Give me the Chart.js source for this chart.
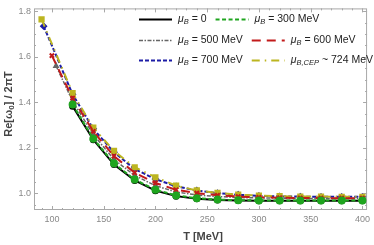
<!DOCTYPE html>
<html>
<head>
<meta charset="utf-8">
<script src="https://cdn.jsdelivr.net/npm/chart.js@4.4.0/dist/chart.umd.min.js"></script>
<style>
html, body { margin: 0; padding: 0; background: #fff; }
#wrap { width: 374px; height: 245px; position: relative; }
</style>
</head>
<body>
<div id="wrap"><canvas id="omegaChart"></canvas></div>
<script>
// Re[w0] / 2piT against T, one curve per baryon chemical potential
const temps = [120, 140, 160, 180, 200, 220, 240, 260, 280, 300, 320, 340, 360, 380, 400];
const tMu500 = [104].concat(temps);
const tMu600 = [100].concat(temps);
const tMu700 = [92].concat(temps);
const tCep = [90].concat(temps);

const mu0 = [1.383, 1.235, 1.126, 1.056, 1.011, 0.987, 0.976, 0.970, 0.968, 0.967, 0.967, 0.967, 0.967, 0.967, 0.967];
const mu300 = [1.390, 1.240, 1.131, 1.060, 1.015, 0.990, 0.978, 0.972, 0.969, 0.968, 0.968, 0.968, 0.968, 0.968, 0.968];
const mu500 = [1.560, 1.405, 1.258, 1.148, 1.078, 1.033, 1.005, 0.992, 0.985, 0.981, 0.979, 0.978, 0.977, 0.977, 0.977, 0.977];
const mu600 = [1.605, 1.418, 1.272, 1.163, 1.090, 1.045, 1.015, 1.000, 0.991, 0.985, 0.982, 0.980, 0.979, 0.978, 0.978, 0.978];
const mu700 = [1.735, 1.435, 1.283, 1.180, 1.106, 1.062, 1.030, 1.012, 1.000, 0.993, 0.988, 0.986, 0.985, 0.984, 0.984, 0.984];
const muCep = [1.765, 1.440, 1.288, 1.186, 1.114, 1.070, 1.033, 1.012, 1.001, 0.994, 0.989, 0.987, 0.985, 0.985, 0.984, 0.984];

const xTicks = [100, 150, 200, 250, 300, 350, 400];
const yTicks = [1.0, 1.2, 1.4, 1.6, 1.8];

function pts(ts, vs) {
    let out = [];
    for (let i = 0; i < ts.length; i++) {
        out.push({ x: ts[i], y: vs[i] });
    }
    return out;
}

// legend text pieces: [text, subscript]
const legendText = [
    ['B', ' = 0'],
    ['B', ' = 300 MeV'],
    ['B', ' = 500 MeV'],
    ['B', ' = 600 MeV'],
    ['B', ' = 700 MeV'],
    ['B,CEP', ' ~ 724 MeV']
];

const datasets = [
    { data: pts(temps, mu0), borderColor: '#000', backgroundColor: '#000', borderWidth: 2, borderDash: [],
      pointStyle: 'circle', pointRadius: 2.5, order: 6 },
    { data: pts(temps, mu300), borderColor: '#1fa51f', backgroundColor: '#1fa51f', borderWidth: 2, borderDash: [4, 2.5],
      pointStyle: 'circle', pointRadius: 3, order: 1 },
    { data: pts(tMu500, mu500), borderColor: '#666', backgroundColor: '#666', borderWidth: 1.5, borderDash: [4, 1.5, 1.5, 1.5],
      pointStyle: 'triangle', pointRadius: 2.5, order: 5 },
    { data: pts(tMu600, mu600), borderColor: '#c21a1a', backgroundColor: '#c21a1a', borderWidth: 2, borderDash: [9, 6],
      pointStyle: 'crossRot', pointRadius: 3, pointBorderWidth: 2, order: 2 },
    { data: pts(tMu700, mu700), borderColor: '#1c1ca6', backgroundColor: '#1c1ca6', borderWidth: 2, borderDash: [4, 2],
      pointStyle: 'rectRot', pointRadius: 2.5, order: 4 },
    { data: pts(tCep, muCep), borderColor: '#bcb520', backgroundColor: '#bcb520', borderWidth: 2, borderDash: [8, 5, 1.5, 5],
      pointStyle: 'rect', pointRadius: 3, order: 3 }
];

const frameTicks = {
    id: 'frameTicks',
    beforeDatasetsDraw(chart) {
        const ctx = chart.ctx;
        const a = chart.chartArea;
        const xs = chart.scales.x, ys = chart.scales.y;
        ctx.save();
        ctx.strokeStyle = '#a8a8a8';
        ctx.lineWidth = 1;
        ctx.strokeRect(a.left + 0.5, a.top + 0.5, a.right - a.left - 1, a.bottom - a.top - 1);
        ctx.beginPath();
        for (let t = 90; t <= 400; t += 10) {
            const px = Math.round(xs.getPixelForValue(t)) + 0.5;
            const len = (t % 50 === 0) ? 4 : 2;
            ctx.moveTo(px, a.bottom); ctx.lineTo(px, a.bottom - len);
            ctx.moveTo(px, a.top); ctx.lineTo(px, a.top + len);
        }
        for (let k = 19; k <= 36; k++) {
            const v = k * 0.05;
            const py = Math.round(ys.getPixelForValue(v)) + 0.5;
            const len = (k % 4 === 0) ? 4 : 2;
            ctx.moveTo(a.left, py); ctx.lineTo(a.left + len, py);
            ctx.moveTo(a.right, py); ctx.lineTo(a.right - len, py);
        }
        ctx.stroke();
        ctx.restore();
    },
    afterDraw(chart) {
        const ctx = chart.ctx;
        ctx.save();
        // axis titles
        ctx.fillStyle = '#444';
        ctx.font = 'bold 11px "Liberation Sans", Arial, sans-serif';
        ctx.textAlign = 'center';
        ctx.textBaseline = 'middle';
        ctx.fillText('T [MeV]', 203, 237);

        ctx.translate(9, 104);
        ctx.rotate(-Math.PI / 2);
        const part1 = 'Re[\u03c9', sub = '0', part2 = '] / 2\u03c0T';
        const fMain = 'bold 11px "Liberation Sans", Arial, sans-serif';
        const fSub = 'bold 8px "Liberation Sans", Arial, sans-serif';
        ctx.font = fMain;
        const w1 = ctx.measureText(part1).width, w3 = ctx.measureText(part2).width;
        ctx.font = fSub;
        const w2 = ctx.measureText(sub).width;
        let x = -(w1 + w2 + w3) / 2;
        ctx.textAlign = 'left';
        ctx.font = fMain; ctx.fillText(part1, x, 0); x += w1;
        ctx.font = fSub; ctx.fillText(sub, x, 3); x += w2;
        ctx.font = fMain; ctx.fillText(part2, x, 0);
        ctx.restore();

        drawLegend(chart);
    }
};

function drawLegend(chart) {
    const ctx = chart.ctx;
    const rowsY = [19, 40, 60];
    const fMu = 'italic 10.5px "Liberation Sans", Arial, sans-serif';
    const fSub = 'italic 7.5px "Liberation Sans", Arial, sans-serif';
    const fTxt = '10.5px "Liberation Sans", Arial, sans-serif';
    ctx.save();
    ctx.textBaseline = 'middle';
    ctx.textAlign = 'left';
    for (let r = 0; r < 3; r++) {
        let x = 139;
        const y = rowsY[r];
        for (let c = 0; c < 2; c++) {
            const i = r * 2 + c;
            const ds = chart.data.datasets[i];
            ctx.strokeStyle = ds.borderColor;
            ctx.lineWidth = ds.borderWidth;
            ctx.setLineDash(ds.borderDash);
            ctx.beginPath();
            ctx.moveTo(x, y + 0.5);
            ctx.lineTo(x + 33, y + 0.5);
            ctx.stroke();
            ctx.setLineDash([]);
            x += 39;
            ctx.fillStyle = '#222';
            ctx.font = fMu; ctx.fillText('\u03bc', x, y); x += ctx.measureText('\u03bc').width;
            ctx.font = fSub; ctx.fillText(legendText[i][0], x, y + 3); x += ctx.measureText(legendText[i][0]).width;
            ctx.font = fTxt; ctx.fillText(legendText[i][1], x, y); x += ctx.measureText(legendText[i][1]).width;
            x += 9;
        }
    }
    ctx.restore();
}

const ctxOmega = document.getElementById('omegaChart').getContext('2d');
const omegaChart = new Chart(ctxOmega, {
    type: 'line',
    data: { datasets: datasets },
    options: {
        responsive: true,
        maintainAspectRatio: false,
        animation: false,
        devicePixelRatio: 1,
        layout: { padding: { top: 3, right: 4, left: 0, bottom: 0 } },
        plugins: { legend: { display: false }, tooltip: { enabled: false } },
        elements: { line: { tension: 0 } },
        scales: {
            x: {
                type: 'linear', min: 82.7, max: 404.5,
                afterFit(scale) { scale.height = 35; },
                afterBuildTicks(scale) { scale.ticks = xTicks.map(v => ({ value: v })); },
                grid: { display: false, drawTicks: false },
                border: { display: false },
                ticks: { padding: 4, color: '#888', maxRotation: 0,
                         font: { family: '"Liberation Sans", Arial, sans-serif', size: 9 } }
            },
            y: {
                type: 'linear', min: 0.926, max: 1.813,
                afterFit(scale) { scale.width = 34; },
                afterBuildTicks(scale) { scale.ticks = yTicks.map(v => ({ value: v })); },
                grid: { display: false, drawTicks: false },
                border: { display: false },
                ticks: { padding: 3, color: '#888',
                         callback: v => v.toFixed(1),
                         font: { family: '"Liberation Sans", Arial, sans-serif', size: 9 } }
            }
        }
    },
    plugins: [frameTicks]
});
</script>
</body>
</html>
